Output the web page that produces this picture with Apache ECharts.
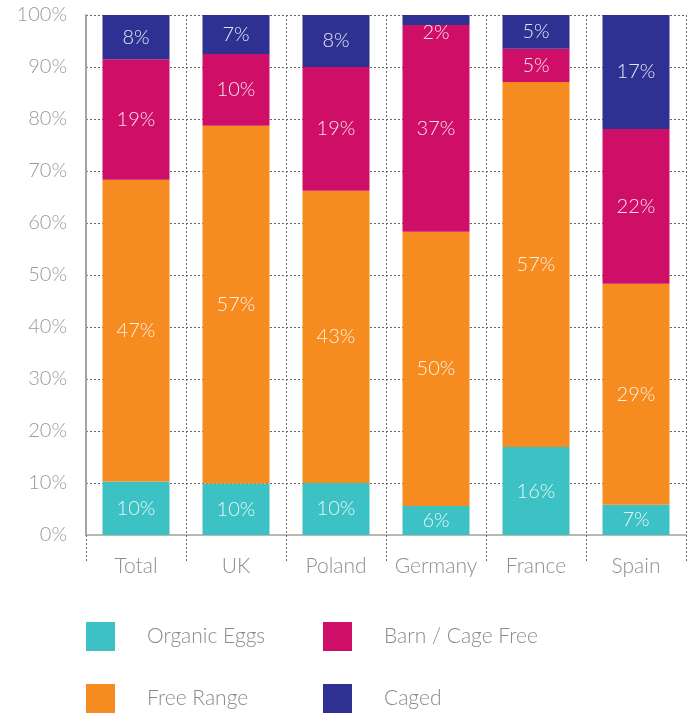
<!DOCTYPE html>
<html>
<head>
<meta charset="utf-8">
<style>
  html, body { margin: 0; padding: 0; background: #fff; }
  #main-chart { width: 691px; height: 713px; }
</style>
<script src="https://cdn.jsdelivr.net/npm/echarts@6/dist/echarts.min.js"></script>
</head>
<body>
<div id="main-chart"></div>
<script>
// categories
const countries = ['Total', 'UK', 'Poland', 'Germany', 'France', 'Spain'];
const seriesNames = ['Organic Eggs', 'Free Range', 'Barn / Cage Free', 'Caged'];

// bar heights as drawn (share of 100%)
const organicHeights = [10.3, 9.9, 10.0, 5.6, 16.9, 5.8];
const freeRangeHeights = [58.0, 68.8, 56.2, 52.7, 70.2, 42.5];
const barnHeights = [23.2, 13.8, 23.8, 39.8, 6.4, 29.8];
const cagedHeights = [8.5, 7.5, 10.0, 1.9, 6.5, 21.9];

// labels printed inside the bars
const organicLabels = [10, 10, 10, 6, 16, 7];
const freeRangeLabels = [47, 57, 43, 50, 57, 29];
const barnLabels = [19, 10, 19, 37, 5, 22];
const cagedLabels = [8, 7, 8, 2, 5, 17];

const yTicks = [0, 10, 20, 30, 40, 50, 60, 70, 80, 90, 100];

const colors = ['#3cc1c4', '#f68b1f', '#ce0e67', '#2e3192'];
const font = 'Lato';
const gridColor = '#6a6560';

let chart = echarts.init(document.getElementById('main-chart'));

function makeSeries(name, heights, labels, color) {
    return {
        name: name,
        type: 'bar',
        stack: 'all',
        barWidth: '67%',
        itemStyle: { color: color },
        label: {
            show: true,
            position: 'inside',
            color: 'rgba(255,255,255,0.88)',
            fontFamily: font,
            fontWeight: 300,
            fontSize: 20,
            formatter: p => labels[p.dataIndex] + '%'
        },
        // a very thin segment gets its label pushed a bit lower, like the original
        data: heights.map(v => v < 4 ? { value: v, label: { offset: [0, 13] } } : v)
    };
}

// one legend per item so the 2x2 grid sits like the original
const legendSpots = [
    { name: 'Organic Eggs', left: 86, top: 622 },
    { name: 'Barn / Cage Free', left: 323, top: 622 },
    { name: 'Free Range', left: 86, top: 684 },
    { name: 'Caged', left: 323, top: 684 }
];

chart.setOption({
    backgroundColor: '#fff',
    animation: false,
    color: colors,
    legend: legendSpots.map(s => ({
        data: [s.name],
        left: s.left,
        top: s.top,
        padding: 0,
        itemWidth: 29,
        itemHeight: 29,
        itemGap: 0,
        icon: 'rect',
        selectedMode: false,
        textStyle: {
            color: '#8a8a8a',
            fontFamily: font,
            fontWeight: 300,
            fontSize: 21,
            padding: [0, 0, 0, 27]
        }
    })),
    grid: {
        left: 86,
        right: 5,
        top: 15,
        bottom: 178
    },
    xAxis: {
        type: 'category',
        data: countries,
        axisLine: { show: true, lineStyle: { color: '#bdb8b3', width: 2 } },
        axisTick: {
            show: true,
            interval: 0,
            length: 28,
            lineStyle: { color: gridColor, type: [2, 2], width: 1 }
        },
        axisLabel: {
            interval: 0,
            margin: 21,
            color: '#8f8f8f',
            fontFamily: font,
            fontWeight: 300,
            fontSize: 21
        },
        splitLine: {
            show: true,
            interval: 0,
            showMinLine: false,
            showMaxLine: true,
            lineStyle: { color: gridColor, type: [2, 2], width: 1 }
        }
    },
    yAxis: {
        type: 'value',
        min: yTicks[0],
        max: yTicks[yTicks.length - 1],
        interval: 10,
        axisLine: { show: true, lineStyle: { color: '#a8a39e', width: 2 } },
        axisTick: { show: false },
        axisLabel: {
            margin: 19,
            color: '#9a9a9a',
            fontFamily: font,
            fontWeight: 300,
            fontSize: 20,
            formatter: v => v + '%'
        },
        splitLine: {
            show: true,
            showMinLine: false,
            lineStyle: { color: gridColor, type: [2, 2], width: 1 }
        }
    },
    series: [
        makeSeries(seriesNames[0], organicHeights, organicLabels, colors[0]),
        makeSeries(seriesNames[1], freeRangeHeights, freeRangeLabels, colors[1]),
        makeSeries(seriesNames[2], barnHeights, barnLabels, colors[2]),
        makeSeries(seriesNames[3], cagedHeights, cagedLabels, colors[3])
    ]
});
</script>
</body>
</html>
